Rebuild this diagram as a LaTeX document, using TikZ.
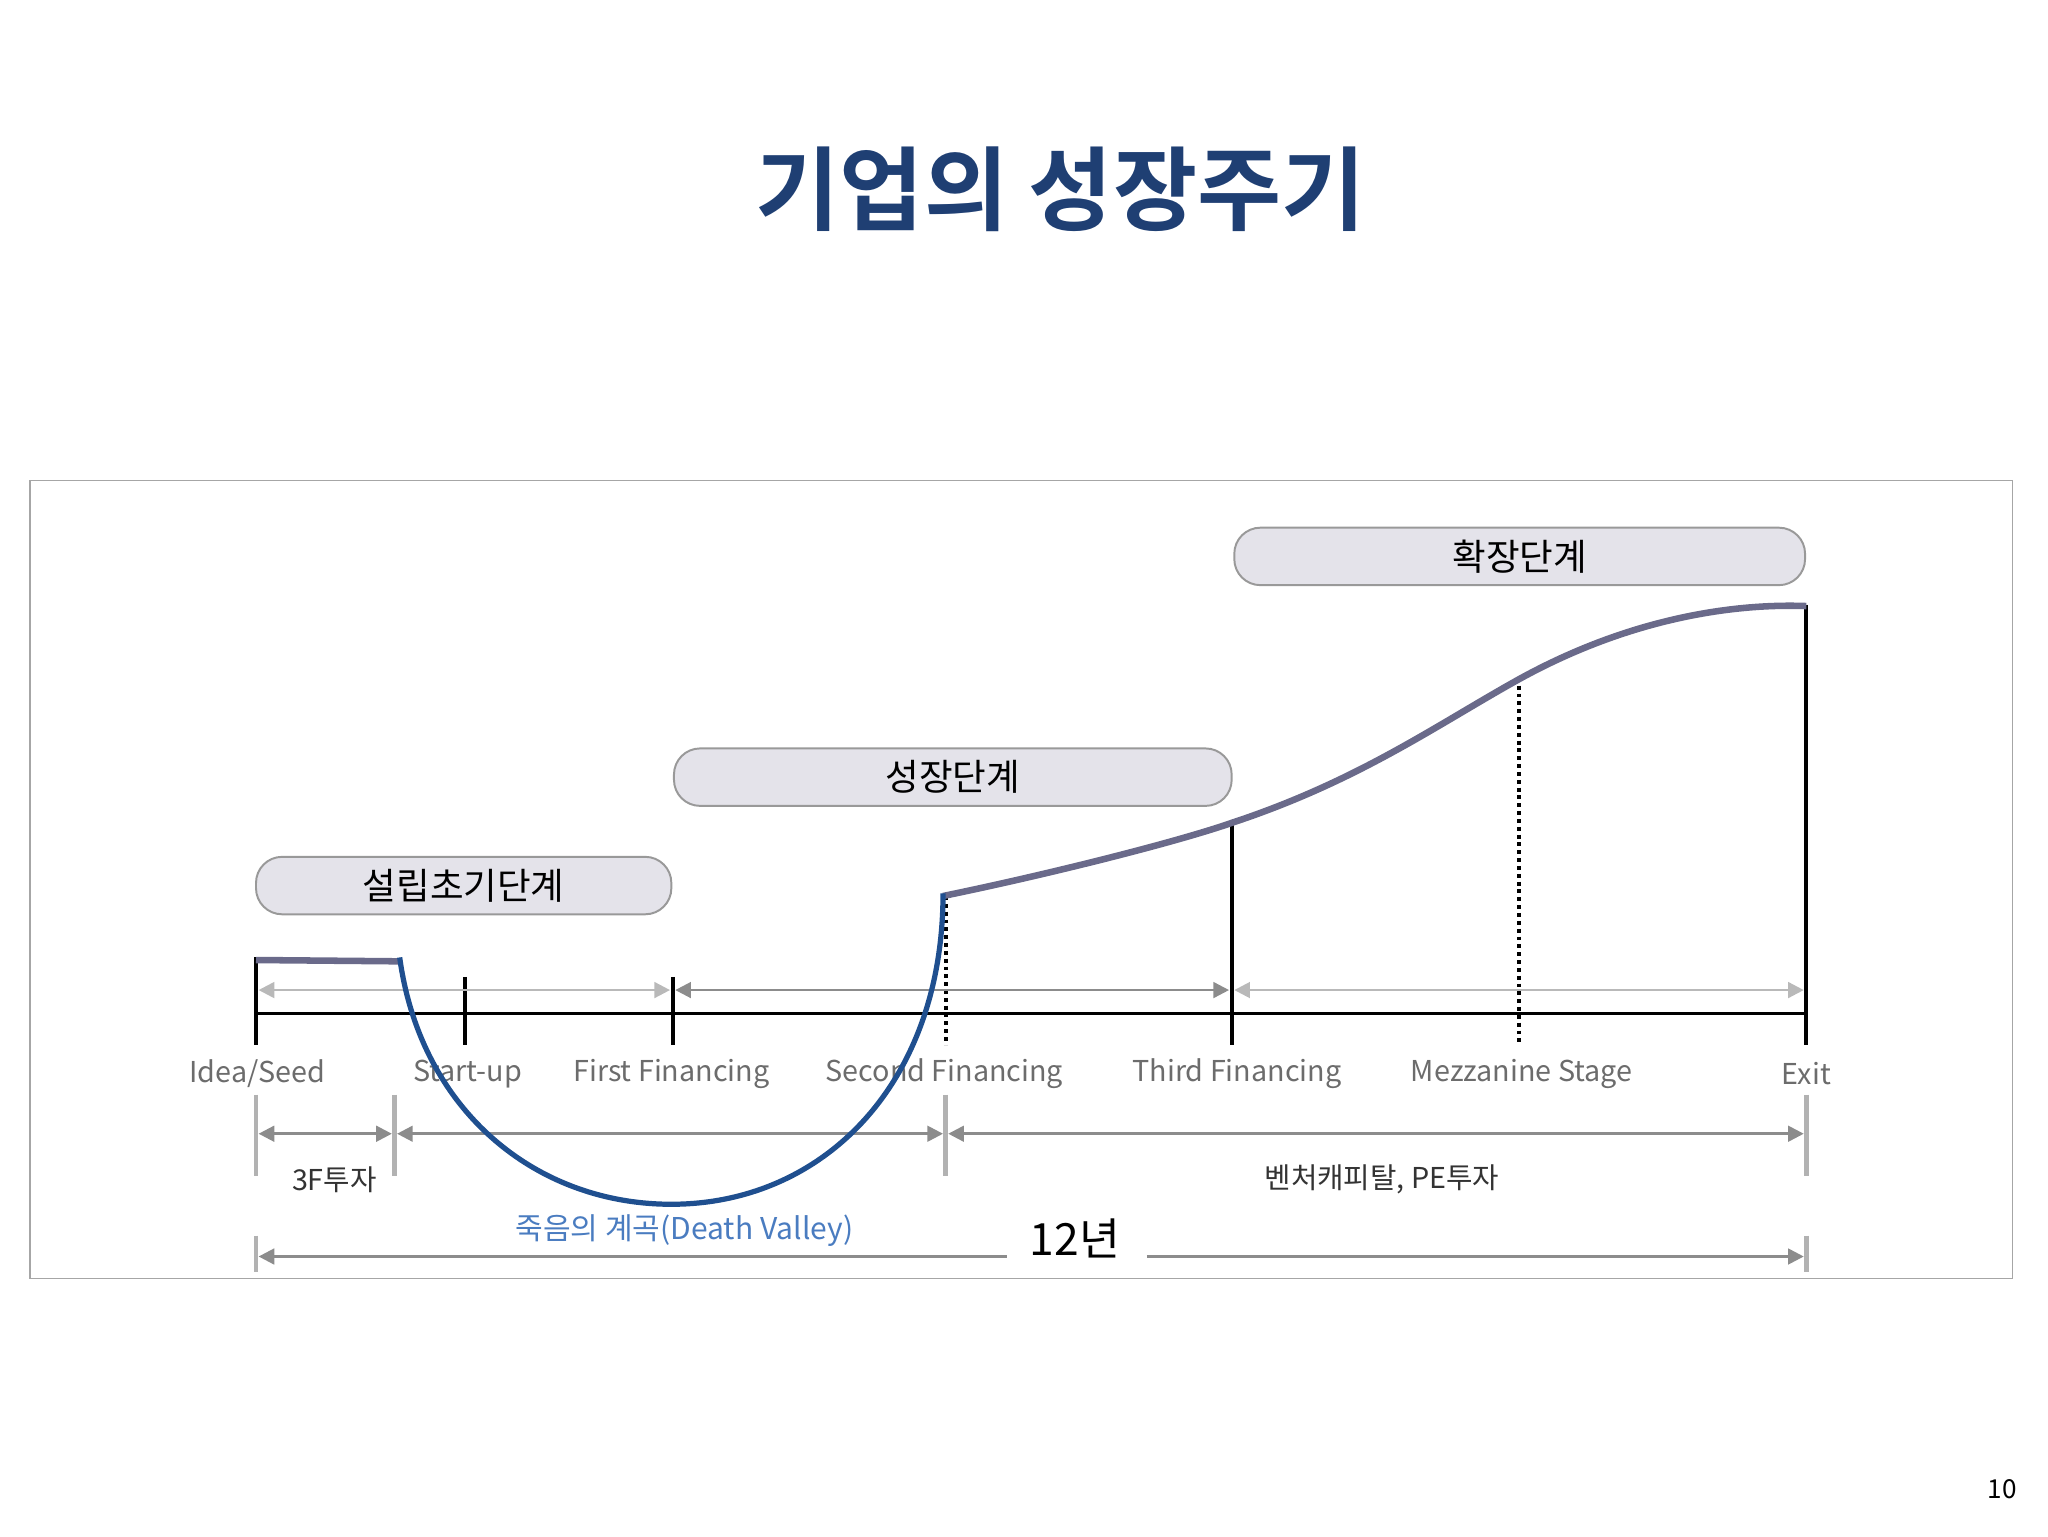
\documentclass[tikz,border=0pt]{standalone}
\usepackage{fontspec}
\setmainfont{Noto Sans CJK KR}
\newfontfamily\kb{Noto Sans CJK KR Bold}
\usetikzlibrary{arrows.meta}
\definecolor{titleblue}{HTML}{1F3F73}
\definecolor{boxfill}{HTML}{E4E3EA}
\definecolor{curvec}{HTML}{6A6A8A}
\definecolor{valley}{HTML}{1F4F8F}
\definecolor{vtext}{HTML}{4A7CC0}
\tikzset{
 stagebox/.style={draw=gray!80, fill=boxfill, line width=1.5pt, rounded corners=20pt, minimum height=44pt, font=\fontsize{28}{30}\selectfont},
 lbl/.style={text=gray!85!black, font=\fontsize{22}{24}\selectfont},
 garrow/.style={draw=gray!55, line width=2pt, {Triangle[length=12pt,width=12pt]}-{Triangle[length=12pt,width=12pt]}},
 darrow/.style={draw=gray!90, line width=2pt, {Triangle[length=12pt,width=12pt]}-{Triangle[length=12pt,width=12pt]}},
 gbar/.style={draw=gray!60, line width=3.5pt},
 tick/.style={draw=black, line width=3pt},
 dtick/.style={draw=black, line width=3pt, dash pattern=on 3pt off 3pt},
}
\begin{document}
\begin{tikzpicture}[x=1pt,y=-1pt]
\useasboundingbox (0,0) rectangle (1568,1176);
\node[text=titleblue, font=\kb\fontsize{70}{72}\selectfont] (title) at (812,145) {기업의 성장주기};
\draw[gray!70, line width=1pt] (23,368) rectangle (1541,979);
% stage boxes
\node[stagebox, minimum width=318pt] (b1) at (355,678) {설립초기단계};
\node[stagebox, minimum width=427pt] (b2) at (729.5,595) {성장단계};
\node[stagebox, minimum width=437pt] (b3) at (1163.5,426) {확장단계};
% axis
\coordinate (a0) at (196,776); \coordinate (a1) at (1383,776);
\draw[black, line width=2.5pt] (a0) -- (a1);
\draw[tick] (196,733) -- (196,800);
\draw[tick] (356,748) -- (356,800);
\draw[tick] (515,748) -- (515,800);
\draw[tick] (943,632) -- (943,800);
\draw[tick] (1383,463) -- (1383,800);
\draw[dtick] (724,686) -- (724,800);
\draw[dtick] (1163,525) -- (1163,800);
% arrows at 758
\coordinate (u0) at (198,758); \coordinate (u1) at (513,758);
\coordinate (u2) at (517,758); \coordinate (u3) at (941,758);
\coordinate (u4) at (945,758); \coordinate (u5) at (1381,758);
\draw[garrow] (u0) -- (u1);
\draw[darrow] (u2) -- (u3);
\draw[garrow] (u4) -- (u5);
% labels
\node[lbl] (l1) at (197,822) {Idea/Seed};
\node[lbl] (l2) at (358,822) {Start-up};
\node[lbl] (l3) at (514,822) {First Financing};
\node[lbl] (l4) at (723,822) {Second Financing};
\node[lbl] (l5) at (947,822) {Third Financing};
\node[lbl] (l6) at (1165,822) {Mezzanine Stage};
\node[lbl] (l7) at (1383,822) {Exit};
% lower bars
\draw[gbar] (196,838) -- (196,900);
\draw[gbar] (302,838) -- (302,900);
\draw[gbar] (724,838) -- (724,900);
\draw[gbar] (1383,838) -- (1383,900);
\coordinate (v0) at (198,868); \coordinate (v1) at (300,868);
\coordinate (v2) at (304,868); \coordinate (v3) at (722,868);
\coordinate (v4) at (726,868); \coordinate (v5) at (1381,868);
\draw[darrow] (v0) -- (v1);
\draw[darrow] (v2) -- (v3);
\draw[darrow] (v4) -- (v5);
\node[text=black!80, font=\fontsize{22}{24}\selectfont] (t3f) at (256,903) {3F투자};
\node[text=black!80, font=\fontsize{22}{24}\selectfont] (tvc) at (1058,903) {벤처캐피탈, PE투자};
% bottom
\draw[gbar] (196,946) -- (196,974);
\draw[gbar] (1383,946) -- (1383,974);
\node[font=\fontsize{34}{36}\selectfont] (yr) at (823,948) {12년};
\coordinate (w0) at (198,962); \coordinate (w1) at (771,962);
\coordinate (w2) at (878,962); \coordinate (w3) at (1381,962);
\draw[draw=gray!90, line width=2pt, {Triangle[length=12pt,width=12pt]}-] (w0) -- (w1);
\draw[draw=gray!90, line width=2pt, -{Triangle[length=12pt,width=12pt]}] (w2) -- (w3);
\node[text=vtext, font=\fontsize{23}{25}\selectfont] (dv) at (524,942) {죽음의 계곡(Death Valley)};
% growth curve
\draw[curvec, line width=5pt] (196,735) -- (305,736);
\draw[curvec, line width=5pt] (722,686) .. controls (800,670) and (900,645) .. (943,630)
  .. controls (1040,598) and (1100,555) .. (1163,520)
  .. controls (1250,472) and (1330,462) .. (1383,464);
% death valley
\draw[valley, line width=4pt] (306,733) .. controls (322,850) and (410,922) .. (514,922)
  .. controls (630,922) and (722,830) .. (722,684);
% page number
\node[font=\fontsize{20}{22}\selectfont] (pg) at (1533,1140) {10};
\end{tikzpicture}
\end{document}
